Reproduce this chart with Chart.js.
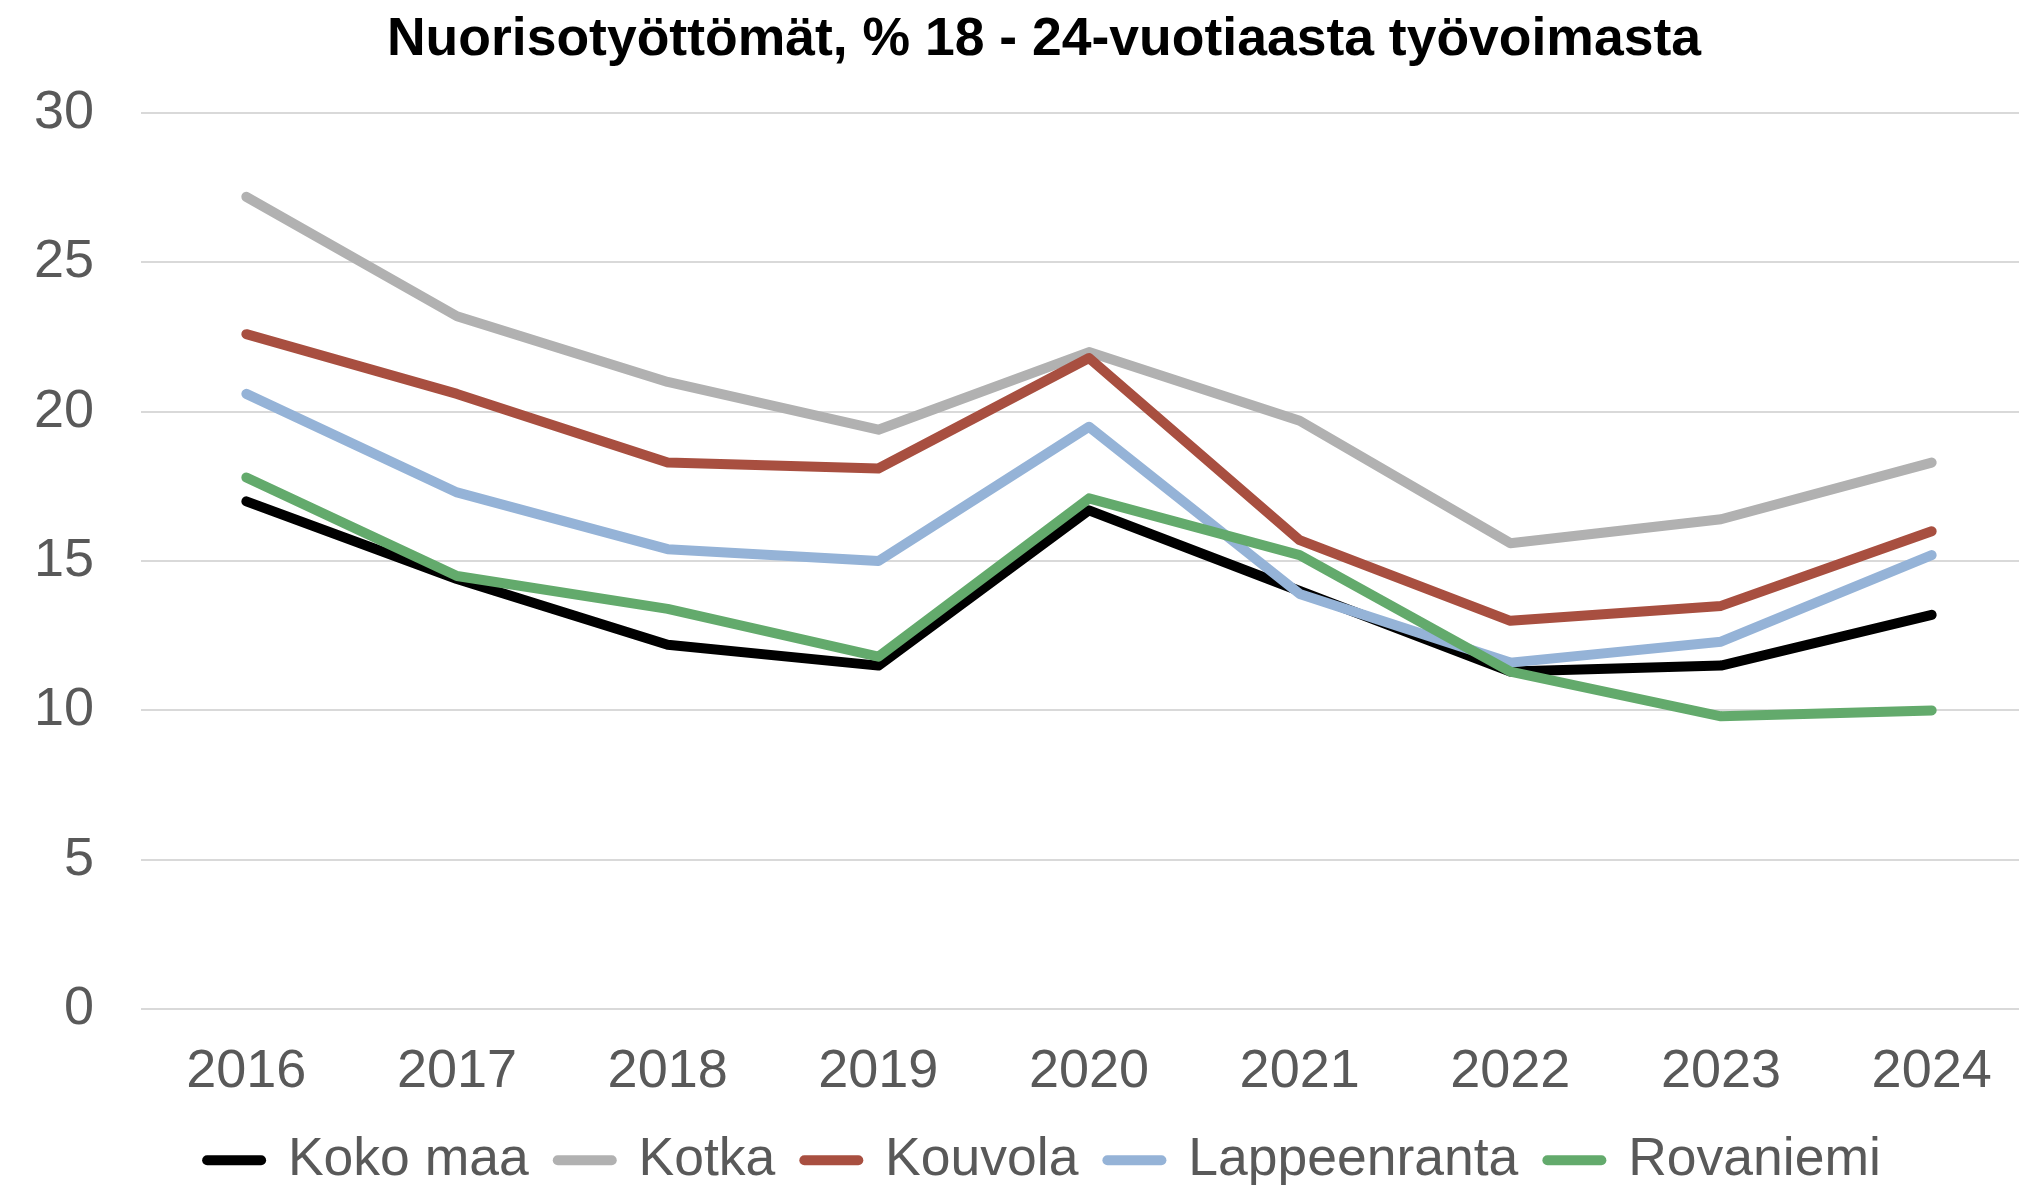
<!DOCTYPE html>
<html>
<head>
<meta charset="utf-8">
<script src="https://cdn.jsdelivr.net/npm/chart.js@4/dist/chart.umd.min.js"></script>
<style>
    body { margin: 0; background: #fff; overflow: hidden; }
    #wrap { position: relative; width: 2088px; height: 1185px; }
</style>
</head>
<body>
<div id="wrap"><canvas id="chartOne"></canvas></div>
<script>
// vuodet
const vuodet = ["2016", "2017", "2018", "2019", "2020", "2021", "2022", "2023", "2024"];

// nuorisotyöttömät % per alue
const kokoMaa = [17.0, 14.4, 12.2, 11.5, 16.7, 14.0, 11.3, 11.5, 13.2];
const kotka = [27.2, 23.2, 21.0, 19.4, 22.0, 19.7, 15.6, 16.4, 18.3];
const kouvola = [22.6, 20.6, 18.3, 18.1, 21.8, 15.7, 13.0, 13.5, 16.0];
const lappeenranta = [20.6, 17.3, 15.4, 15.0, 19.5, 13.9, 11.6, 12.3, 15.2];
const rovaniemi = [17.8, 14.5, 13.4, 11.8, 17.1, 15.2, 11.3, 9.8, 10.0];

const yTicks = [0, 5, 10, 15, 20, 25, 30];

const fontti = "'Liberation Sans', Arial, sans-serif";
const harmaa = "#595959";

function sarja(nimi, data, vari, jarjestys) {
    return {
        label: nimi,
        data: data,
        borderColor: vari,
        backgroundColor: vari,
        borderWidth: 10,
        borderCapStyle: "round",
        borderJoinStyle: "round",
        pointRadius: 0,
        pointHoverRadius: 0,
        tension: 0,
        fill: false,
        order: jarjestys,
    };
}

const ctx1 = document.getElementById("chartOne").getContext("2d");
const graficaUno = new Chart(ctx1, {
    type: "line",
    data: {
        labels: vuodet,
        datasets: [
            sarja("Koko maa", kokoMaa, "#000000", 5),
            sarja("Kotka", kotka, "#b1b1b1", 4),
            sarja("Kouvola", kouvola, "#a84f40", 3),
            sarja("Lappeenranta", lappeenranta, "#95b3d7", 2),
            sarja("Rovaniemi", rovaniemi, "#63aa6c", 1),
        ],
    },
    options: {
        responsive: true,
        maintainAspectRatio: false,
        animation: false,
        layout: {
            padding: { left: 34, right: 34, top: 0, bottom: -12 },
        },
        plugins: {
            title: {
                display: true,
                text: "Nuorisotyöttömät, % 18 - 24-vuotiaasta työvoimasta",
                color: "#000000",
                font: { family: fontti, size: 53.5, weight: "bold" },
                padding: { top: 8, bottom: 41 },
            },
            legend: {
                position: "bottom",
                labels: {
                    usePointStyle: true,
                    pointStyle: "line",
                    pointStyleWidth: 54,
                    color: harmaa,
                    font: { family: fontti, size: 53.5 },
                    padding: 29,
                    sort: (a, b) => a.datasetIndex - b.datasetIndex,
                    generateLabels: (chart) =>
                        chart.data.datasets.map((ds, i) => ({
                            text: ds.label,
                            datasetIndex: i,
                            strokeStyle: ds.borderColor,
                            fillStyle: ds.borderColor,
                            lineWidth: 10,
                            lineCap: "round",
                            pointStyle: "line",
                            fontColor: harmaa,
                            hidden: false,
                        })),
                },
            },
            tooltip: { enabled: false },
        },
        scales: {
            x: {
                offset: true,
                grid: { display: false, drawTicks: false },
                border: { display: false },
                ticks: {
                    color: harmaa,
                    font: { family: fontti, size: 54 },
                    padding: 31,
                    maxRotation: 0,
                    autoSkip: false,
                },
                afterFit: (scale) => {
                    scale.height = 95.5;
                },
            },
            y: {
                min: 0,
                max: 30,
                afterBuildTicks: (scale) => {
                    scale.ticks = yTicks.map((v) => ({ value: v }));
                },
                grid: { color: "#d9d9d9", lineWidth: 2, drawTicks: false },
                border: { display: false },
                ticks: {
                    color: harmaa,
                    font: { family: fontti, size: 54 },
                    padding: 47,
                },
                afterFit: (scale) => {
                    scale.width = 107;
                },
            },
            // tyhjä oikea akseli, jotta otsikko ja selite ovat keskellä
            tyhja: {
                position: "right",
                min: 0,
                max: 30,
                grid: { display: false, drawTicks: false },
                border: { display: false },
                ticks: { display: false },
                afterFit: (scale) => {
                    scale.width = 17;
                },
            },
        },
    },
});
</script>
</body>
</html>
